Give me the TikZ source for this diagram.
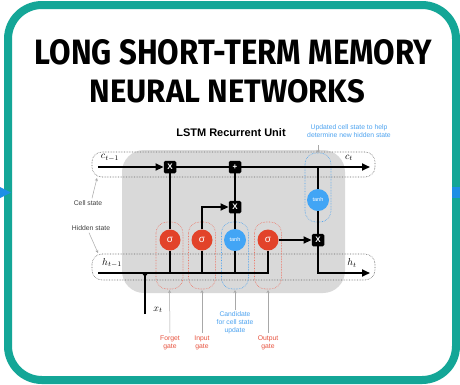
\documentclass[tikz,border=0pt]{standalone}
\usepackage{graphicx}
\usepackage{fontspec}
\setmainfont{Liberation Sans}
\newfontfamily\titlefont{Fira Sans}
\usetikzlibrary{arrows.meta,backgrounds}
\definecolor{tealb}{HTML}{14A697}
\definecolor{gatered}{HTML}{E2432A}
\definecolor{gateblue}{HTML}{42A5F5}
\definecolor{lblred}{HTML}{E8533F}
\definecolor{lblblue}{HTML}{4DA3F0}
\definecolor{unitgray}{HTML}{D9D9D9}
\definecolor{ptrgray}{HTML}{A8A8A8}
\definecolor{markblue}{HTML}{1E8FE6}
\begin{document}
\begin{tikzpicture}[x=1pt,y=-1pt,
 wire/.style={line width=1.7pt},
 tip/.style={-{Triangle[length=8pt,width=7pt]}},
 opbox/.style={fill=black,rounded corners=1.5pt,minimum size=12.5pt,inner sep=0pt,text=white,font=\bfseries\fontsize{8}{8}\selectfont},
 sigc/.style={circle,fill=gatered,minimum size=21pt,inner sep=0pt,text=white,font=\fontsize{10}{10}\selectfont},
 tanhc/.style={circle,fill=gateblue,minimum size=22pt,inner sep=0pt,text=white,font=\fontsize{5.5}{5.5}\selectfont},
 redbox/.style={draw=lblred!80,densely dotted,line width=0.6pt,rounded corners=11pt},
 bluebox/.style={draw=lblblue,densely dotted,line width=0.6pt,rounded corners=11pt},
 statebox/.style={draw=black!60,densely dotted,line width=0.6pt,rounded corners=10pt},
 ptr/.style={draw=ptrgray,line width=0.5pt,-{Stealth[length=3pt,width=3pt]}},
 lbl/.style={font=\fontsize{6.8}{8}\selectfont,align=center,inner sep=0pt},
]
\useasboundingbox (0,0) rectangle (460,384);
\fill[white] (0,0) rectangle (460,384);
% frame
\draw[tealb,line width=8pt,rounded corners=34pt] (8,5) rectangle (456,380);
\fill[markblue] (0,187) -- (11,192.5) -- (0,198) -- cycle;
\fill[markblue] (452,187) rectangle (460,198);
% title
\node (t1) at (233.5,52) {\resizebox{397pt}{25pt}{\titlefont\bfseries LONG SHORT-TERM MEMORY}};
\node (t2) at (227.5,91.5) {\resizebox{275pt}{23pt}{\titlefont\bfseries NEURAL NETWORKS}};
\node (unit) at (231,133) {\bfseries\fontsize{11}{11}\selectfont LSTM Recurrent Unit};
% unit background
\fill[unitgray,rounded corners=22pt] (122,150) rectangle (345,293);
\draw[statebox] (92,152) rectangle (375,177);
\draw[statebox] (92,254) rectangle (375,280);
\draw[redbox] (156,222) rectangle (183,289);
\draw[redbox] (188.5,222) rectangle (215.5,289);
\draw[bluebox] (221.5,222) rectangle (248.5,289);
\draw[redbox] (254.5,222) rectangle (281.5,289);
\draw[bluebox] (305,153) rectangle (331,222);
% operations
\node[opbox] (fx) at (170,167) {X};
\node[opbox] (px) at (235,167) {+};
\node[opbox] (ix) at (235,207) {X};
\node[opbox] (ox) at (318,240) {X};
\node[sigc] (sf) at (170,240) {σ};
\node[sigc] (si) at (202,240) {σ};
\node[tanhc] (sc) at (235,240) {tanh};
\node[sigc] (so) at (268,240) {σ};
\node[tanhc] (tc) at (318,200) {tanh};
% coordinates
\coordinate (cs) at (98,167);
\coordinate (ce) at (370,167);
\coordinate (ct) at (318,167);
\coordinate (hs) at (98,273);
\coordinate (he) at (370,273);
\coordinate (gf) at (170,273);
\coordinate (gi) at (202,273);
\coordinate (gc) at (235,273);
\coordinate (go) at (268,273);
\coordinate (xj) at (145,273);
\coordinate (xt) at (145,314);
% wires
\draw[wire,tip] (cs) -- (fx);
\draw[wire] (fx) -- (px);
\draw[wire,tip] (px) -- (ce);
\draw[wire] (hs) -- (go) -- (so);
\draw[wire] (gf) -- (sf);
\draw[wire] (sf) -- (fx);
\draw[wire] (gi) -- (si);
\draw[wire,tip] (si) |- (ix);
\draw[wire] (gc) -- (sc);
\draw[wire] (sc) -- (ix);
\draw[wire] (ix) -- (px);
\draw[wire,tip] (so) -- (ox);
\draw[wire] (ct) -- (tc);
\draw[wire] (tc) -- (ox);
\draw[wire,tip] (ox) |- (he);
\draw[wire] (xt) -- (xj);
\fill (141,272) -- (149,272) -- (145,277) -- cycle;
% state labels
\node (c0) at (110,158) {\fontsize{10}{10}\selectfont$c_{t-1}$};
\node (c1) at (349,158) {\fontsize{10}{10}\selectfont$c_{t}$};
\node (h0) at (112,263) {\fontsize{10}{10}\selectfont$h_{t-1}$};
\node (h1) at (352,263) {\fontsize{10}{10}\selectfont$h_{t}$};
\node (xl) at (158,310) {\fontsize{10}{10}\selectfont$x_{t}$};
\node[lbl,text=black!75] (cl) at (88,203) {Cell state};
\node[lbl,text=black!75] (hl) at (91,228) {Hidden state};
\coordinate (cb) at (97,178);
\coordinate (hb) at (98,253);
\draw[ptr] (cl.north) ++(4,-2) -- (cb);
\draw[ptr] (hl.south) ++(-2,2) -- (hb);
% gate labels
\node[lbl,text=lblred] (fl) at (170,343) {Forget\\gate};
\node[lbl,text=lblred] (il) at (202,343) {Input\\gate};
\node[lbl,text=lblblue] (cdl) at (235,323) {Candidate\\for cell state\\update};
\node[lbl,text=lblred] (ol) at (268,343) {Output\\gate};
\node[lbl,text=lblblue] (ul) at (349,131) {Updated cell state to help\\determine new hidden state};
\coordinate (fb) at (169.5,290);
\coordinate (ib) at (202,290);
\coordinate (cdb) at (235,290);
\coordinate (ob) at (268,290);
\coordinate (ub) at (318,153);
\draw[ptr] (fl.north) ++(0,-3) -- (fb);
\draw[ptr] (il.north) ++(0,-3) -- (ib);
\draw[ptr] (cdl.north) ++(0,-2) -- (cdb);
\draw[ptr] (ol.north) ++(0,-3) -- (ob);
\draw[ptr] (318,145) -- (ub);
\end{tikzpicture}
\end{document}
